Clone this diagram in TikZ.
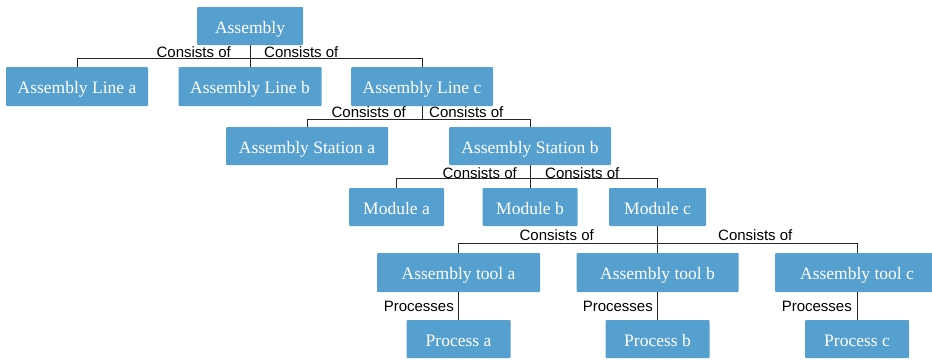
\documentclass[tikz,border=0pt]{standalone}
\usepackage{fontspec}
\setmainfont{Liberation Serif}
\newfontfamily\labelfont{Liberation Sans}
\definecolor{boxblue}{RGB}{86,160,208}
\tikzset{
  box/.style={fill=boxblue, text=white, rounded corners=1pt, inner sep=0pt,
    text height=16pt, text depth=2pt,
    font=\fontsize{17.5}{20}\selectfont, align=center},
  wire/.style={draw=black!85, line width=0.9pt},
  rel/.style={inner sep=0pt, font=\labelfont\fontsize{15}{17}\selectfont}
}
\begin{document}
\begin{tikzpicture}[x=1pt, y=-1pt]
\useasboundingbox (0,0) rectangle (932,359);

% hierarchy boxes
\node[box, minimum width=106pt, minimum height=38pt] (asm) at (250,26) {Assembly};
\node[box, minimum width=142pt, minimum height=39pt] (la) at (77,86.5) {Assembly Line a};
\node[box, minimum width=143pt, minimum height=39pt] (lb) at (250,86.5) {Assembly Line b};
\node[box, minimum width=142pt, minimum height=39pt] (lc) at (422,86.5) {Assembly Line c};
\node[box, minimum width=162pt, minimum height=38pt] (sa) at (307,146) {Assembly Station a};
\node[box, minimum width=162pt, minimum height=38pt] (sb) at (530,146) {Assembly Station b};
\node[box, minimum width=95pt, minimum height=38pt] (ma) at (396.5,207) {Module a};
\node[box, minimum width=95pt, minimum height=38pt] (mb) at (530,207) {Module b};
\node[box, minimum width=97pt, minimum height=38pt] (mc) at (657.5,207) {Module c};
\node[box, minimum width=163pt, minimum height=39pt] (ta) at (458.5,272.5) {Assembly tool a};
\node[box, minimum width=162pt, minimum height=39pt] (tb) at (657.5,272.5) {Assembly tool b};
\node[box, minimum width=164pt, minimum height=39pt] (tc) at (857,272.5) {Assembly tool c};
\node[box, minimum width=104pt, minimum height=38pt] (pa) at (458.5,339) {Process a};
\node[box, minimum width=104pt, minimum height=38pt] (pb) at (657.5,339) {Process b};
\node[box, minimum width=104pt, minimum height=38pt] (pc) at (857,339) {Process c};

% bus levels
\coordinate (bus2) at (0,119);
\coordinate (bus4) at (0,243);

% connectors
\draw[wire] (asm.south) -- (lb.north);
\draw[wire] (la.north) -- ++(0,-8) -| (lc.north);
\draw[wire] (lc.south) -- (lc.south |- bus2);
\draw[wire] (sa.north) -- (sa.north |- bus2) -| (sb.north);
\draw[wire] (sb.south) -- (mb.north);
\draw[wire] (ma.north) -- ++(0,-9) -| (mc.north);
\draw[wire] (mc.south) -- (tb.north);
\draw[wire] (ta.north) -- (ta.north |- bus4) -| (tc.north);
\draw[wire] (ta.south) -- (pa.north);
\draw[wire] (tb.south) -- (pb.north);
\draw[wire] (tc.south) -- (pc.north);

% relation labels
\node[rel, anchor=base east] (c1l) at (231,57.5) {Consists of};
\node[rel, anchor=base west] (c1r) at (264,57.5) {Consists of};
\node[rel, anchor=base east] (c2l) at (406,117) {Consists of};
\node[rel, anchor=base west] (c2r) at (429,117) {Consists of};
\node[rel, anchor=base east] (c3l) at (517,178.5) {Consists of};
\node[rel, anchor=base west] (c3r) at (545,178.5) {Consists of};
\node[rel, anchor=base east] (c4l) at (594,240.5) {Consists of};
\node[rel, anchor=base west] (c4r) at (718,240.5) {Consists of};
\node[rel, anchor=base east] (pra) at (454,311.5) {Processes};
\node[rel, anchor=base east] (prb) at (653,311.5) {Processes};
\node[rel, anchor=base east] (prc) at (852,311.5) {Processes};
\end{tikzpicture}
\end{document}
